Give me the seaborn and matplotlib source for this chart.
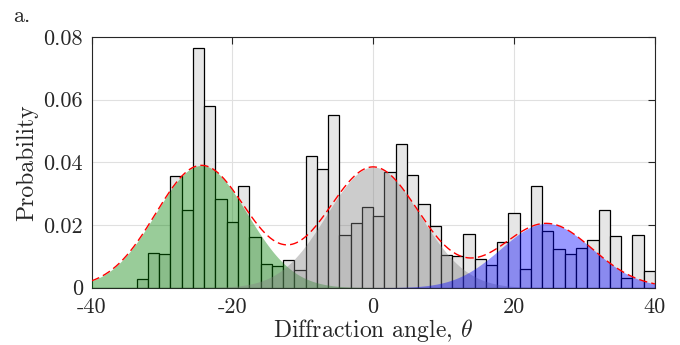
import numpy as np
import pandas as pd
import matplotlib
matplotlib.use("Agg")
import matplotlib.pyplot as plt
import seaborn as sns

# histogram: 50 bins of width 1.6 from -40 to 40
bin_edges = [round(-40 + 1.6 * k, 2) for k in range(51)]
probability = [
    0.0, 0.0, 0.0, 0.0, 0.0027, 0.0112, 0.0108, 0.0357, 0.0249, 0.0766,
    0.0579, 0.0282, 0.0211, 0.0325, 0.0162, 0.0077, 0.0068, 0.0088, 0.0057, 0.0419,
    0.0380, 0.0552, 0.0167, 0.0206, 0.0259, 0.0228, 0.0369, 0.0460, 0.0359, 0.0268,
    0.0196, 0.0104, 0.0102, 0.0172, 0.0091, 0.0072, 0.0146, 0.0237, 0.0060, 0.0323,
    0.0180, 0.0125, 0.0109, 0.0126, 0.0153, 0.0248, 0.0165, 0.0031, 0.0168, 0.0053,
]

# fitted gaussian components (centre, width, peak height)
comp_mu = [-24.4, 0.0, 24.6]
comp_sigma = [6.5, 6.6, 6.5]
comp_amp = [0.039, 0.0385, 0.0205]
comp_colors = [(0, 0.5, 0), (0.5, 0.5, 0.5), (0, 0, 1)]

x_ticks = [-40, -20, 0, 20, 40]
x_tick_labels = ["-40", "-20", "0", "20", "40"]
y_ticks = [0, 0.02, 0.04, 0.06, 0.08]
y_tick_labels = ["0", "0.02", "0.04", "0.06", "0.08"]

sns.set_style("white")
plt.rcParams["font.family"] = ["cmr10", "DejaVu Serif"]
plt.rcParams["mathtext.fontset"] = "cm"
plt.rcParams["axes.unicode_minus"] = False

fig = plt.figure(figsize=(6.8, 3.45), dpi=100)
ax = fig.add_axes([0.1346, 0.166, 0.8284, 0.727])

centers = [(bin_edges[i] + bin_edges[i + 1]) / 2 for i in range(len(probability))]
hist_df = pd.DataFrame({"angle": centers, "p": probability})
sns.histplot(data=hist_df, x="angle", weights="p", bins=bin_edges, stat="count",
             color="#e6e6e6", alpha=1.0, edgecolor="black", linewidth=0.9, ax=ax, zorder=2)

theta = np.linspace(-40, 40, 801)
total = np.zeros_like(theta)
for mu, s, a, c in zip(comp_mu, comp_sigma, comp_amp, comp_colors):
    g = a * np.exp(-(theta - mu) ** 2 / (2 * s ** 2))
    total += g
    ax.fill_between(theta, 0, g, color=c, alpha=0.4, linewidth=0, zorder=3)

sns.lineplot(x=theta, y=total, color="red", linestyle=(0, (6, 3)), linewidth=1.0, ax=ax, zorder=4)

ax.set_xlim(-40, 40)
ax.set_ylim(0, 0.08)
ax.set_xticks(x_ticks)
ax.set_xticklabels(x_tick_labels)
ax.set_yticks(y_ticks)
ax.set_yticklabels(y_tick_labels)
ax.grid(True, color="#e0e0e0", linewidth=0.8, zorder=0)
ax.set_axisbelow(True)
ax.tick_params(direction="in", length=5, width=0.8, labelsize=16, colors="#262626",
               labelcolor="#262626", top=True, right=True)
ax.tick_params(axis="x", pad=7)
ax.tick_params(axis="y", pad=6)
for sp in ax.spines.values():
    sp.set_color("#262626")
    sp.set_linewidth(0.8)
    sp.set_visible(True)

ax.set_xlabel(r"Diffraction angle, $\theta$", fontsize=17, labelpad=0)
ax.set_ylabel("Probability", fontsize=17, labelpad=4)
fig.text(0.019, 0.954, "a.", fontsize=16, ha="left", va="center")

fig.savefig("out.png", dpi=100)
